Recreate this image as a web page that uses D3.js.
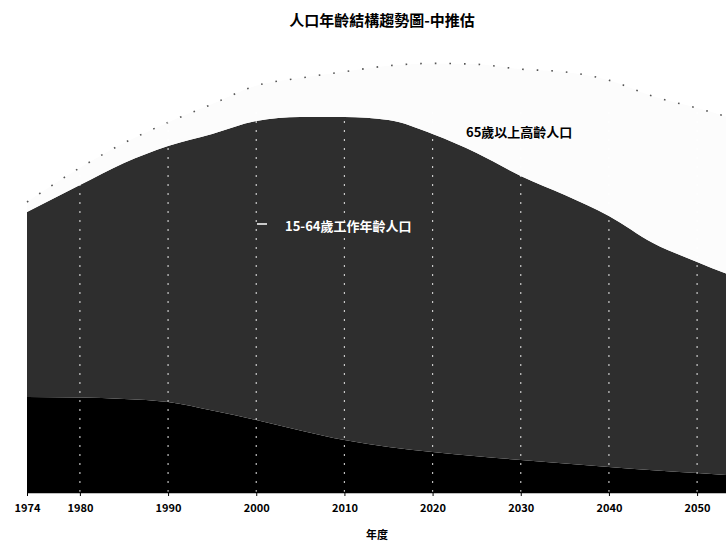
<!DOCTYPE html>
<html>
<head>
<meta charset="utf-8">
<script src="https://cdn.jsdelivr.net/npm/d3@7"></script>
<style>
body{margin:0;background:#fff;}
text{font-family:"Noto Sans CJK TC","Liberation Sans",sans-serif;}
</style>
</head>
<body>
<svg id="chart"></svg>
<script>
// population by age group, 萬人
var years   = [1974,1980,1985,1990,1995,2000,2005,2010,2015,2020,2025,2030,2035,2040,2045,2050,2056]
var young   = [525, 522, 514, 497, 450, 398, 340, 287, 248, 221, 198, 177, 157, 138, 120, 105, 85]
var working = [1022,1174,1304,1415,1528,1652,1732,1785,1807,1757,1675,1569,1484,1387,1256,1166,1070]
var elderly = [55,  95,  110, 130, 165, 195, 215, 250, 300, 390, 490, 590, 680, 750, 810, 850, 880]
var tickYears = [1974,1980,1990,2000,2010,2020,2030,2040,2050]
var keys = ["young","working","elderly"]

var width = 726, height = 542
var svg = d3.select("#chart")
    .attr("width",width)
    .attr("height",height)

var data = years.map((y,i)=>({year:y,young:young[i],working:working[i],elderly:elderly[i]}))

var x = d3.scaleLinear()
          .domain([1974,2056])
          .range([27,750])
var y = d3.scaleLinear()
          .domain([0,2500])
          .range([492,39.5])

var colors = {young:"#000",working:"#2e2e2e",elderly:"#fcfcfc"}

var series = d3.stack().keys(keys)(data)
var area = d3.area()
             .x(d=>x(d.data.year))
             .y0(d=>y(d[0]))
             .y1(d=>y(d[1]))
             .curve(d3.curveMonotoneX)

svg.append("g")
   .selectAll("path")
   .data(series)
   .enter()
   .append("path")
   .attr("fill",d=>colors[d.key])
   .attr("d",area)

// faint dotted outline of the total
var totalLine = d3.line()
            .x(d=>x(d.data.year))
            .y(d=>y(d[1]))
            .curve(d3.curveMonotoneX)
svg.append("path")
   .datum(series[2])
   .attr("fill","none")
   .attr("stroke","#555")
   .attr("stroke-width",1.6)
   .attr("stroke-dasharray","1.6,13")
   .attr("d",totalLine)

// white dashed grid lines
svg.append("g")
   .selectAll("line")
   .data(tickYears.slice(1))
   .enter()
   .append("line")
   .attr("x1",d=>x(d))
   .attr("x2",d=>x(d))
   .attr("y1",y(0))
   .attr("y2",y(2100))
   .attr("stroke","#fff")
   .attr("stroke-opacity",0.75)
   .attr("stroke-width",1.2)
   .attr("stroke-dasharray","2,7")

var axis = d3.axisBottom(x)
             .tickValues(tickYears)
             .tickFormat(d3.format("d"))
             .tickSizeInner(4)
             .tickSizeOuter(0)
var gx = svg.append("g")
   .attr("transform",`translate(0,${y(0)})`)
   .call(axis)
gx.select(".domain").attr("stroke-width",1.5)
gx.selectAll("text")
  .attr("dy","1.2em")
  .attr("font-size","11px")
  .attr("font-weight","bold")
  .attr("font-family","Liberation Sans, Arial, sans-serif")
  .attr("fill","#000")

svg.append("text")
   .attr("x",382)
   .attr("y",26)
   .attr("font-size","15px")
   .attr("font-weight","bold")
   .style("text-anchor","middle")
   .text("人口年齡結構趨勢圖-中推估")

svg.append("text")
   .attr("x",377)
   .attr("y",539)
   .attr("font-size","11px")
   .attr("font-weight","bold")
   .style("text-anchor","middle")
   .text("年度")

svg.append("text")
   .attr("x",466)
   .attr("y",137)
   .attr("font-size","13px")
   .attr("font-weight","bold")
   .text("65歲以上高齡人口")

svg.append("line")
   .attr("x1",257).attr("x2",267)
   .attr("y1",224).attr("y2",224)
   .attr("stroke","#fff")
   .attr("stroke-width",1.5)
svg.append("text")
   .attr("x",285)
   .attr("y",231)
   .attr("font-size","13px")
   .attr("font-weight","bold")
   .attr("fill","#fff")
   .text("15-64歲工作年齡人口")
</script>
</body>
</html>
